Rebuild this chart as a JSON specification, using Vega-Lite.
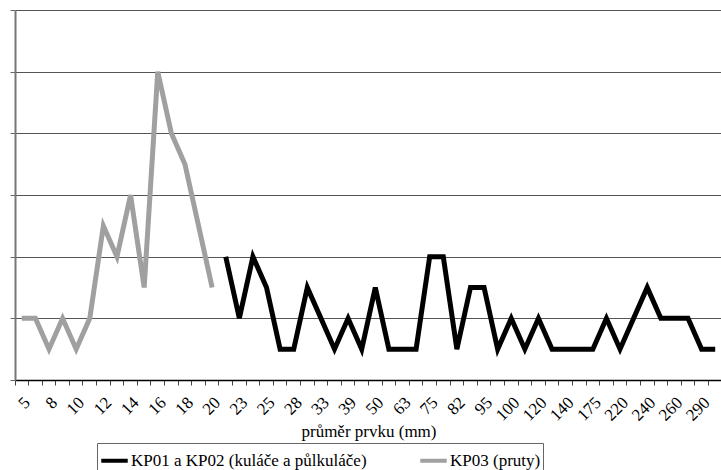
{
  "$schema": "https://vega.github.io/schema/vega-lite/v6.json",
  "width": 707,
  "height": 370,
  "autosize": "none",
  "padding": {"left": 15, "top": 10, "right": 0, "bottom": 90},
  "background": "white",
  "config": {
    "view": {"stroke": null},
    "font": "Times New Roman, Liberation Serif, DejaVu Serif, serif",
    "axis": {"labelFont": "Times New Roman, Liberation Serif, DejaVu Serif, serif", "titleFont": "Times New Roman, Liberation Serif, DejaVu Serif, serif"},
    "legend": {"labelFont": "Times New Roman, Liberation Serif, DejaVu Serif, serif"}
  },
  "data": {
    "values": [
      {"d": "5", "v": 2, "s": "KP03 (pruty)"},
      {"d": "6", "v": 2, "s": "KP03 (pruty)"},
      {"d": "8", "v": 1, "s": "KP03 (pruty)"},
      {"d": "9", "v": 2, "s": "KP03 (pruty)"},
      {"d": "10", "v": 1, "s": "KP03 (pruty)"},
      {"d": "11", "v": 2, "s": "KP03 (pruty)"},
      {"d": "12", "v": 5, "s": "KP03 (pruty)"},
      {"d": "13", "v": 4, "s": "KP03 (pruty)"},
      {"d": "14", "v": 6, "s": "KP03 (pruty)"},
      {"d": "15", "v": 3, "s": "KP03 (pruty)"},
      {"d": "16", "v": 10, "s": "KP03 (pruty)"},
      {"d": "17", "v": 8, "s": "KP03 (pruty)"},
      {"d": "18", "v": 7, "s": "KP03 (pruty)"},
      {"d": "19", "v": 5, "s": "KP03 (pruty)"},
      {"d": "20", "v": 3, "s": "KP03 (pruty)"},
      {"d": "22", "v": 4, "s": "KP01 a KP02 (kuláče a půlkuláče)"},
      {"d": "23", "v": 2, "s": "KP01 a KP02 (kuláče a půlkuláče)"},
      {"d": "24", "v": 4, "s": "KP01 a KP02 (kuláče a půlkuláče)"},
      {"d": "25", "v": 3, "s": "KP01 a KP02 (kuláče a půlkuláče)"},
      {"d": "26", "v": 1, "s": "KP01 a KP02 (kuláče a půlkuláče)"},
      {"d": "28", "v": 1, "s": "KP01 a KP02 (kuláče a půlkuláče)"},
      {"d": "30", "v": 3, "s": "KP01 a KP02 (kuláče a půlkuláče)"},
      {"d": "33", "v": 2, "s": "KP01 a KP02 (kuláče a půlkuláče)"},
      {"d": "36", "v": 1, "s": "KP01 a KP02 (kuláče a půlkuláče)"},
      {"d": "39", "v": 2, "s": "KP01 a KP02 (kuláče a půlkuláče)"},
      {"d": "45", "v": 1, "s": "KP01 a KP02 (kuláče a půlkuláče)"},
      {"d": "50", "v": 3, "s": "KP01 a KP02 (kuláče a půlkuláče)"},
      {"d": "60", "v": 1, "s": "KP01 a KP02 (kuláče a půlkuláče)"},
      {"d": "63", "v": 1, "s": "KP01 a KP02 (kuláče a půlkuláče)"},
      {"d": "70", "v": 1, "s": "KP01 a KP02 (kuláče a půlkuláče)"},
      {"d": "75", "v": 4, "s": "KP01 a KP02 (kuláče a půlkuláče)"},
      {"d": "80", "v": 4, "s": "KP01 a KP02 (kuláče a půlkuláče)"},
      {"d": "82", "v": 1, "s": "KP01 a KP02 (kuláče a půlkuláče)"},
      {"d": "90", "v": 3, "s": "KP01 a KP02 (kuláče a půlkuláče)"},
      {"d": "95", "v": 3, "s": "KP01 a KP02 (kuláče a půlkuláče)"},
      {"d": "98", "v": 1, "s": "KP01 a KP02 (kuláče a půlkuláče)"},
      {"d": "100", "v": 2, "s": "KP01 a KP02 (kuláče a půlkuláče)"},
      {"d": "110", "v": 1, "s": "KP01 a KP02 (kuláče a půlkuláče)"},
      {"d": "120", "v": 2, "s": "KP01 a KP02 (kuláče a půlkuláče)"},
      {"d": "130", "v": 1, "s": "KP01 a KP02 (kuláče a půlkuláče)"},
      {"d": "140", "v": 1, "s": "KP01 a KP02 (kuláče a půlkuláče)"},
      {"d": "160", "v": 1, "s": "KP01 a KP02 (kuláče a půlkuláče)"},
      {"d": "175", "v": 1, "s": "KP01 a KP02 (kuláče a půlkuláče)"},
      {"d": "200", "v": 2, "s": "KP01 a KP02 (kuláče a půlkuláče)"},
      {"d": "220", "v": 1, "s": "KP01 a KP02 (kuláče a půlkuláče)"},
      {"d": "230", "v": 2, "s": "KP01 a KP02 (kuláče a půlkuláče)"},
      {"d": "240", "v": 3, "s": "KP01 a KP02 (kuláče a půlkuláče)"},
      {"d": "250", "v": 2, "s": "KP01 a KP02 (kuláče a půlkuláče)"},
      {"d": "260", "v": 2, "s": "KP01 a KP02 (kuláče a půlkuláče)"},
      {"d": "280", "v": 2, "s": "KP01 a KP02 (kuláče a půlkuláče)"},
      {"d": "290", "v": 1, "s": "KP01 a KP02 (kuláče a půlkuláče)"},
      {"d": "300", "v": 1, "s": "KP01 a KP02 (kuláče a půlkuláče)"}
    ]
  },
  "mark": {"type": "line", "strokeWidth": 5, "strokeJoin": "miter", "strokeCap": "butt"},
  "encoding": {
    "x": {
      "field": "d",
      "type": "ordinal",
      "sort": null,
      "bandPosition": 0.5,
      "scale": {"type": "band", "paddingInner": 0, "paddingOuter": 0},
      "axis": {
        "title": "průměr prvku (mm)",
        "titleFontSize": 17,
        "titleFontWeight": "normal",
        "titleColor": "#000",
        "titlePadding": 0,
        "bandPosition": 0,
        "grid": false,
        "domainColor": "#000",
        "domainWidth": 1.5,
        "tickColor": "#444",
        "tickSize": 5,
        "labelAngle": -45,
        "labelAlign": "right",
        "labelBaseline": "top",
        "labelPadding": 9,
        "labelFontSize": 17,
        "labelColor": "#000",
        "labelOverlap": false,
        "labelExpr": "indexof(['6','9','11','13','15','17','19','22','24','26','30','36','45','60','70','80','90','98','110','130','160','200','230','250','280','300'], datum.label) >= 0 ? '' : datum.label"
      }
    },
    "y": {
      "field": "v",
      "type": "quantitative",
      "scale": {"domain": [0, 12], "nice": false},
      "axis": {
        "title": null,
        "labels": false,
        "values": [0, 2, 4, 6, 8, 10, 12],
        "grid": true,
        "gridColor": "#555",
        "gridWidth": 1,
        "domainColor": "#777",
        "domainWidth": 2,
        "tickColor": "#666",
        "tickSize": 5
      }
    },
    "color": {
      "field": "s",
      "type": "nominal",
      "scale": {
        "domain": ["KP01 a KP02 (kuláče a půlkuláče)", "KP03 (pruty)"],
        "range": ["#000000", "#a0a0a0"]
      },
      "legend": {
        "title": null,
        "orient": "none",
        "legendX": 82,
        "legendY": 433,
        "direction": "horizontal",
        "symbolType": "stroke",
        "symbolSize": 700,
        "symbolStrokeWidth": 4,
        "labelFontSize": 17,
        "labelColor": "#000",
        "labelLimit": 400,
        "labelOffset": 1,
        "columnPadding": 45,
        "strokeColor": "#666",
        "padding": 2
      }
    }
  }
}
